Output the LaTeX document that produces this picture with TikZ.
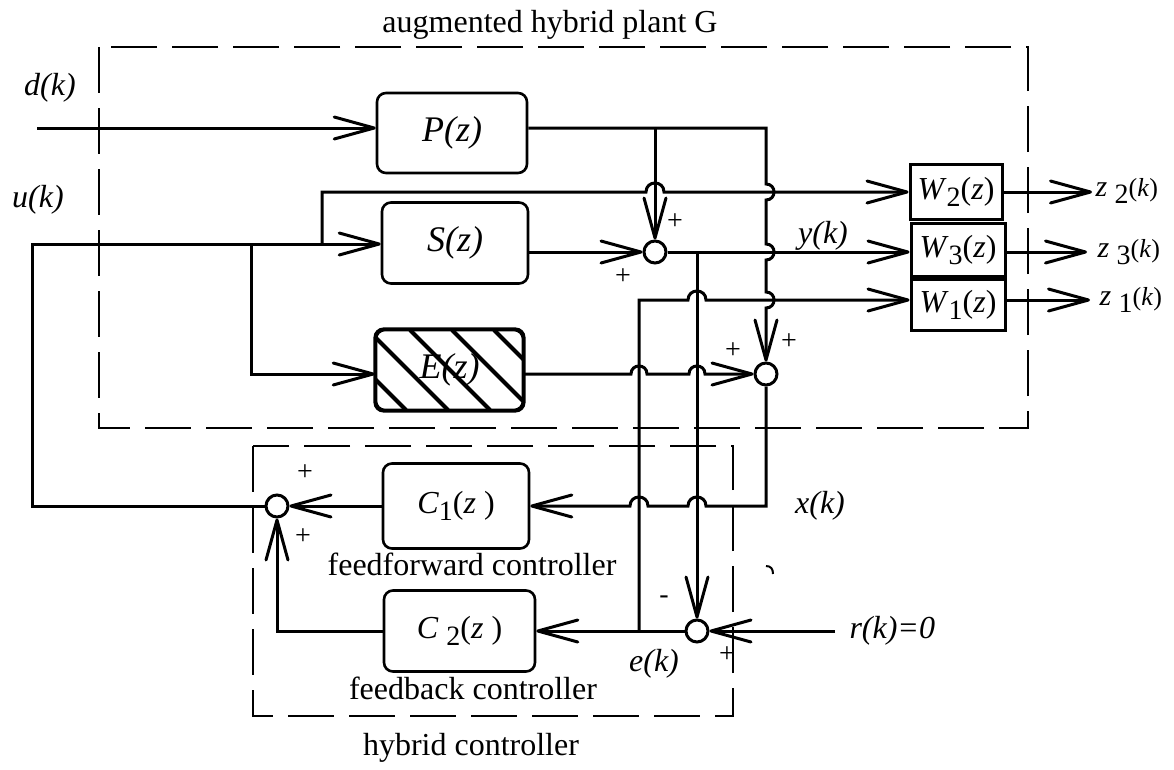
\documentclass[tikz,border=0pt]{standalone}
\usepackage{fontspec}
\setmainfont{Liberation Serif}
\usetikzlibrary{arrows.meta}
\newcommand\sbs[1]{\raisebox{-0.22em}{\fontsize{28}{30}\selectfont #1}}
\begin{document}
\begin{tikzpicture}[x=1pt,y=-1pt,
  line width=3pt,
  >={Straight Barb[length=40pt,width=22pt,round]},
  blk/.style={draw,rounded corners=9pt,inner sep=0pt,line width=2.6pt},
  wblk/.style={draw,inner sep=0pt,line width=3pt},
  sumn/.style={draw,circle,minimum size=22pt,inner sep=0pt,line width=3pt},
  big/.style={font=\fontsize{36}{40}\selectfont},
  txt/.style={inner sep=0pt,font=\fontsize{32}{36}\selectfont},
  zlab/.style={inner sep=0pt,anchor=west,font=\fontsize{30}{32}\selectfont},
  sgn/.style={inner sep=0pt,font=\fontsize{28}{30}\selectfont},
  frame/.style={line width=1.5pt,dash pattern=on 46pt off 15pt},
]
\useasboundingbox (0,0) rectangle (1174,769);

% frames
\draw[frame] (99,47) rectangle (1028,428);
\draw[frame] (253,446) rectangle (733,716);

% blocks
\node[blk,big,minimum width=150pt,minimum height=80pt] (P) at (452,133) {\textit{P(z)}};
\node[blk,big,minimum width=146pt,minimum height=81pt] (S) at (455,243) {\textit{S(z)}};
\node[blk,big,minimum width=147pt,minimum height=80pt] (E) at (449.5,370) {\textit{E(z)}};
\begin{scope}
\clip[rounded corners=9pt] (E.north west) rectangle (E.south east);
\foreach \t in {326,368,410,452,494} \draw[line width=4pt] (\t,330) -- ++(80,80);
\end{scope}
\draw[line width=2.6pt,rounded corners=9pt] (E.north west) rectangle (E.south east);

\node[wblk,txt,minimum width=92pt,minimum height=55pt] (W2) at (956,192) {\textit{W}\sbs{2}(\textit{z})};
\node[wblk,txt,minimum width=94pt,minimum height=53pt] (W3) at (958,250) {\textit{W}\sbs{3}(\textit{z})};
\node[wblk,txt,minimum width=94pt,minimum height=51pt] (W1) at (958,305) {\textit{W}\sbs{1}(\textit{z})};
\node[blk,txt,minimum width=146pt,minimum height=85pt] (C1) at (456,506) {\textit{C}\sbs{1}(\textit{z} )};
\node[blk,txt,minimum width=151pt,minimum height=81pt] (C2) at (459.5,631) {\textit{C} \sbs{2}(\textit{z} )};

% summing junctions
\node[sumn] (s1) at (655,252) {};
\node[sumn] (s2) at (766,374) {};
\node[sumn] (s3) at (697,631) {};
\node[sumn] (s4) at (277,506) {};

% coordinates
\coordinate (din) at (37,128);
\coordinate (b1) at (655,128);
\coordinate (pj) at (766,128);
\coordinate (uc) at (32,244);
\coordinate (ub) at (32,506);
\coordinate (ue) at (251,244);
\coordinate (ue2) at (251,374);
\coordinate (uw) at (322,244);
\coordinate (uw2) at (322,192);
\coordinate (yb) at (697,252);
\coordinate (eb) at (639,631);
\coordinate (eb2) at (639,300);
\coordinate (xc) at (766,506);
\coordinate (cc) at (277,631);
\coordinate (rin) at (835,631);
\coordinate (z2) at (1092,192);
\coordinate (z3) at (1087,252);
\coordinate (z1) at (1090,300);

% connectors
\draw[->] (din) -- (P.west |- din);
\draw[->] (P.east |- b1) -- (pj) -- (766,184) .. controls (776.7,184) and (776.7,200) .. (766,200)
  -- (766,244) .. controls (776.7,244) and (776.7,260) .. (766,260)
  -- (766,292) .. controls (776.7,292) and (776.7,308) .. (766,308) -- (s2);
\draw[->] (b1) -- (s1);
\draw[->] (s4) -- (ub) -- (uc) -- (S.west |- uc);
\draw[->] (ue) -- (ue2) -- (E.west |- ue2);
\draw[->] (uw) -- (uw2) -- (646,192) .. controls (646,180) and (664,180) .. (664,192) -- (W2.west);
\draw[->] (S.east |- s1) -- (s1);
\draw[->] (s1) -- (W3.west |- s1);
\draw[->] (yb) -- (s3);
\draw[->] (eb) -- (eb2) -- (688,300) .. controls (688,288) and (706,288) .. (706,300) -- (W1.west |- eb2);
\draw[->] (E.east |- s2) -- (631,374) .. controls (631,363.3) and (647,363.3) .. (647,374)
  -- (689,374) .. controls (689,363.3) and (705,363.3) .. (705,374) -- (s2);
\draw[->] (s2) -- (xc) -- (706,506) .. controls (706,494) and (688,494) .. (688,506)
  -- (648,506) .. controls (648,494) and (630,494) .. (630,506) -- (C1.east);
\draw[->] (C1.west) -- (s4);
\draw[->] (C2.west) -- (cc) -- (s4);
\draw[->] (s3) -- (C2.east);
\draw[->] (rin) -- (s3);
\draw[->] (W2.east) -- (z2);
\draw[->] (W3.east |- z3) -- (z3);
\draw[->] (W1.east |- z1) -- (z1);

% stray mark
\draw[line width=2pt] (766,566) .. controls (771,566) and (773,569) .. (773,574);

% labels
\node[txt] (tG) at (550,25) {augmented hybrid plant G};
\node[txt] (tff) at (472,564) {feedforward controller};
\node[txt] (tfb) at (473,688) {feedback controller};
\node[txt] (thc) at (471,748) {hybrid controller};
\node[txt] (ld) at (50,88) {\textit{d(k)}};
\node[txt] (lu) at (38,200) {\textit{u(k)}};
\node[txt] (ly) at (823,236) {\textit{y(k)}};
\node[txt] (lx) at (820,506) {\textit{x(k)}};
\node[txt] (le) at (654,664) {\textit{e(k)}};
\node[txt,anchor=west] (lr) at (848,631) {\textit{r(k)=0}};
\node[zlab] (lz2) at (1094,191) {\textit{z} \sbs{2}{\fontsize{26}{28}\selectfont(\textit{k})}};
\node[zlab] (lz3) at (1096,252) {\textit{z} \sbs{3}{\fontsize{26}{28}\selectfont(\textit{k})}};
\node[zlab] (lz1) at (1098,300) {\textit{z} \sbs{1}{\fontsize{26}{28}\selectfont(\textit{k})}};

\node[sgn] (p1) at (675,222) {+};
\node[sgn] (p2) at (623,277) {+};
\node[sgn] (p3) at (733,351) {+};
\node[sgn] (p4) at (789,342) {+};
\node[sgn] (p5) at (305,473) {+};
\node[sgn] (p6) at (303,537) {+};
\node[sgn] (m1) at (664,600) {-};
\node[sgn] (p7) at (727,655) {+};
\end{tikzpicture}
\end{document}
